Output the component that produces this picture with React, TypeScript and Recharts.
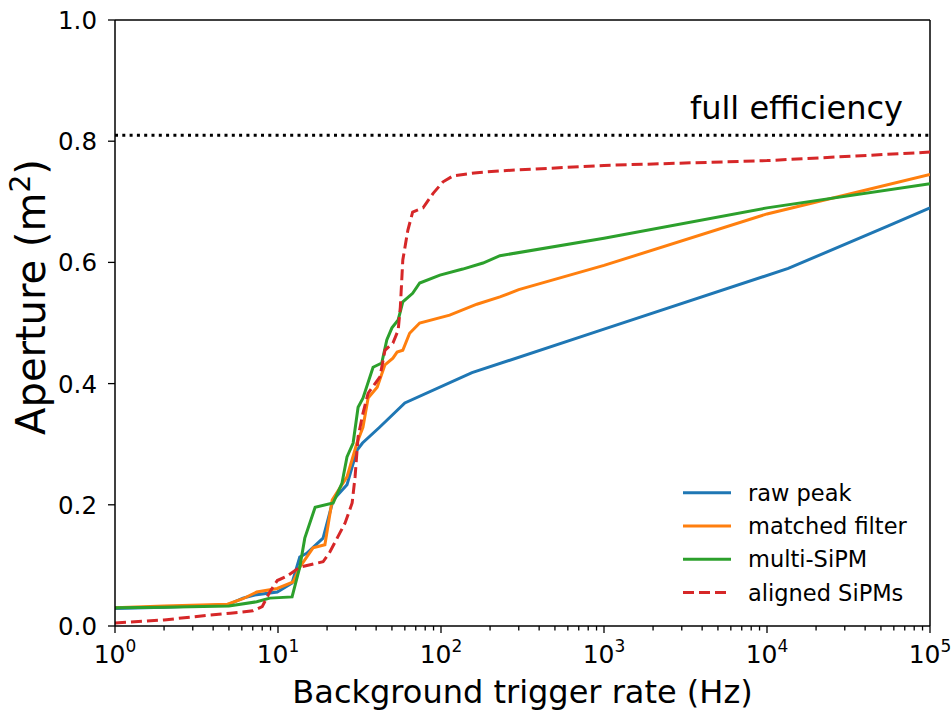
import React from 'react';
import {
  LineChart, Line, XAxis, YAxis, ReferenceLine, Legend, Label
} from 'recharts';

// Aperture vs. background trigger rate for the four trigger schemes
const rawPeakRate = [1, 2, 4.9, 6.1, 7.2, 9.9, 12.2, 13.6, 15, 18.9, 21.8, 26.5, 30.5, 33, 42, 60, 155, 1000, 13500, 55000, 100000];
const rawPeak = [0.029, 0.031, 0.035, 0.046, 0.051, 0.056, 0.071, 0.114, 0.12, 0.145, 0.208, 0.233, 0.29, 0.302, 0.328, 0.368, 0.418, 0.49, 0.59, 0.66, 0.69];

const matchedRate = [1, 2, 4.9, 6.1, 7.4, 9.9, 12.4, 13.6, 16.4, 19.4, 21.5, 26.5, 30.5, 33.2, 35.7, 40.6, 45.3, 50.7, 53.8, 58.3, 64.2, 74, 113, 166, 230, 300, 1000, 10000, 100000];
const matched = [0.03, 0.033, 0.036, 0.045, 0.056, 0.062, 0.073, 0.097, 0.129, 0.134, 0.208, 0.246, 0.302, 0.328, 0.376, 0.394, 0.431, 0.442, 0.452, 0.455, 0.483, 0.5, 0.513, 0.531, 0.543, 0.555, 0.595, 0.68, 0.745];

const multiRate = [1, 2, 5, 7.4, 8.9, 12.2, 13.6, 14.6, 16.9, 21.8, 24.7, 26.5, 28.9, 31, 33.2, 38.3, 43.3, 46.5, 50, 54.6, 58.3, 67, 74, 98.5, 136, 181, 230, 1000, 10000, 100000];
const multi = [0.03, 0.031, 0.033, 0.04, 0.046, 0.048, 0.097, 0.145, 0.196, 0.203, 0.236, 0.279, 0.302, 0.361, 0.376, 0.427, 0.434, 0.472, 0.492, 0.505, 0.535, 0.549, 0.566, 0.579, 0.589, 0.599, 0.611, 0.64, 0.69, 0.73];

const alignedRate = [1, 2, 3.8, 5.1, 7, 8, 8.9, 9.9, 11.3, 13.6, 18.9, 20.8, 25.8, 28.5, 29.7, 31, 33.2, 35.7, 42.2, 45.3, 50.7, 54.6, 56.3, 58.3, 62.6, 67, 77.6, 89.5, 103, 119, 166, 230, 1000, 10000, 100000];
const aligned = [0.005, 0.01, 0.018, 0.021, 0.025, 0.032, 0.056, 0.075, 0.082, 0.097, 0.106, 0.122, 0.17, 0.203, 0.246, 0.312, 0.351, 0.384, 0.411, 0.455, 0.467, 0.488, 0.526, 0.604, 0.653, 0.683, 0.69, 0.714, 0.733, 0.743, 0.748, 0.751, 0.76, 0.768, 0.782];

const fullEfficiency = 0.81;

const majorTicks = [1, 10, 100, 1000, 10000, 100000];
const minorMultipliers = [2, 3, 4, 5, 6, 7, 8, 9];
const yTicks = [0, 0.2, 0.4, 0.6, 0.8, 1.0];

const xTicks = [
  ...majorTicks,
  ...majorTicks.slice(0, -1).flatMap(m => minorMultipliers.map(k => k * m)),
].sort((a, b) => a - b);

const zip = (xs: number[], ys: number[]) => xs.map((x, i) => ({ x, y: ys[i] }));

const series = [
  { name: 'raw peak', color: '#1f77b4', data: zip(rawPeakRate, rawPeak), dash: undefined },
  { name: 'matched filter', color: '#ff7f0e', data: zip(matchedRate, matched), dash: undefined },
  { name: 'multi-SiPM', color: '#2ca02c', data: zip(multiRate, multi), dash: undefined },
  { name: 'aligned SiPMs', color: '#d62728', data: zip(alignedRate, aligned), dash: '11 5' },
];

const FONT = '"DejaVu Sans", sans-serif';

const XTick = (props: any) => {
  const { x, y, payload } = props;
  const v = payload.value;
  const major = majorTicks.includes(v);
  const exp = Math.round(Math.log10(v));
  return (
    <g>
      <line x1={x} x2={x} y1={y} y2={y + (major ? 7 : 4.5)} stroke="#000" strokeWidth={1.3} />
      {major && (
        <text x={x} y={y + 37} textAnchor="middle" fontSize={25} fontFamily={FONT} fill="#000">
          10<tspan dy={-11} fontSize={17}>{exp}</tspan>
        </text>
      )}
    </g>
  );
};

const YTick = (props: any) => {
  const { x, y, payload } = props;
  return (
    <g>
      <line x1={x - 7} x2={x} y1={y} y2={y} stroke="#000" strokeWidth={1.3} />
      <text x={x - 18} y={y + 9} textAnchor="end" fontSize={24.5} fontFamily={FONT} fill="#000">
        {payload.value.toFixed(1)}
      </text>
    </g>
  );
};

const renderLegend = () => (
  <svg width={260} height={130}>
    {series.map((s, i) => {
      const cy = 14.7 + i * 33.3;
      return (
        <g key={s.name}>
          <line x1={8} x2={56} y1={cy} y2={cy} stroke={s.color} strokeWidth={3} strokeDasharray={s.dash} />
          <text x={73} y={cy + 8} fontSize={22.5} fontFamily={FONT} fill="#000">{s.name}</text>
        </g>
      );
    })}
  </svg>
);

export default function App() {
  return (
    <div style={{ position: 'absolute', left: 0, top: 0, width: 951, height: 710, background: '#fff' }}>
      <LineChart width={951} height={710} margin={{ top: 20, right: 21, bottom: 0, left: 0 }}>
        <XAxis
          dataKey="x"
          type="number"
          scale="log"
          domain={[1, 100000]}
          allowDataOverflow
          ticks={xTicks}
          interval={0}
          height={84}
          tickSize={0}
          tickMargin={0}
          tickLine={false}
          tick={<XTick />}
          axisLine={{ stroke: '#000', strokeWidth: 1.5 }}
        >
          <Label
            content={() => (
              <text x={522.5} y={703} textAnchor="middle" fontSize={32} fontFamily={FONT} fill="#000">
                Background trigger rate (Hz)
              </text>
            )}
          />
        </XAxis>
        <YAxis
          type="number"
          domain={[0, 1]}
          ticks={yTicks}
          interval={0}
          width={115}
          tickSize={0}
          tickMargin={0}
          tickLine={false}
          tick={<YTick />}
          axisLine={{ stroke: '#000', strokeWidth: 1.5 }}
        >
          <Label
            content={() => (
              <text
                x={45}
                y={297}
                transform="rotate(-90 45 297)"
                textAnchor="middle"
                fontSize={40}
                fontFamily={FONT}
                fill="#000"
              >
                Aperture (m<tspan dy={-15} fontSize={28}>2</tspan><tspan dy={15}>)</tspan>
              </text>
            )}
          />
        </YAxis>
        <ReferenceLine y={1} stroke="#000" strokeWidth={1.5} />
        <ReferenceLine x={100000} stroke="#000" strokeWidth={1.5} />
        <ReferenceLine
          y={fullEfficiency}
          stroke="#000"
          strokeWidth={3}
          strokeDasharray="3 4.3"
          label={(p: any) => {
            const vb = p.viewBox;
            return (
              <text x={vb.x + vb.width - 27} y={vb.y - 16} textAnchor="end" fontSize={32} fontFamily={FONT} fill="#000">
                full efficiency
              </text>
            );
          }}
        />
        {series.map(s => (
          <Line
            key={s.name}
            name={s.name}
            data={s.data}
            dataKey="y"
            type="linear"
            stroke={s.color}
            strokeWidth={3}
            strokeDasharray={s.dash}
            dot={false}
            activeDot={false}
            isAnimationActive={false}
          />
        ))}
        {/* vertical + centred so the legend box takes no room from the plot */}
        <Legend
          layout="vertical"
          align="center"
          verticalAlign="middle"
          content={renderLegend}
          wrapperStyle={{ left: 675, top: 478, width: 260, height: 130 }}
        />
      </LineChart>
    </div>
  );
}
